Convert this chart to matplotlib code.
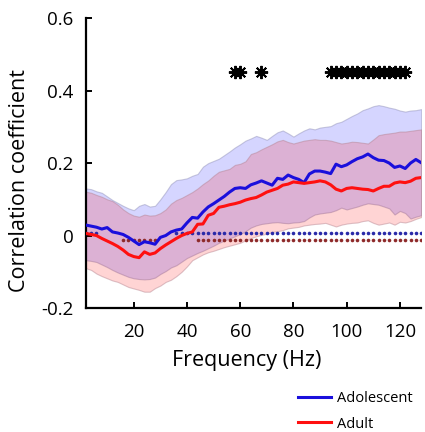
import matplotlib
matplotlib.use('Agg')
import matplotlib.pyplot as plt
from matplotlib.lines import Line2D
import numpy as np

plt.rcParams['font.family'] = ['Open Sans', 'DejaVu Sans']

freq = np.arange(2, 129, 2)

adol_mean = [0.029, 0.026, 0.023, 0.018, 0.022, 0.010, 0.007, 0.003, -0.005, -0.015,
             -0.025, -0.017, -0.020, -0.024, -0.005, 0.000, 0.010, 0.015, 0.018, 0.035,
             0.050, 0.048, 0.065, 0.079, 0.088, 0.098, 0.108, 0.120, 0.130, 0.132,
             0.130, 0.140, 0.145, 0.151, 0.145, 0.139, 0.158, 0.155, 0.167, 0.160,
             0.155, 0.146, 0.170, 0.178, 0.178, 0.175, 0.171, 0.197, 0.190, 0.195,
             0.204, 0.212, 0.217, 0.225, 0.215, 0.208, 0.207, 0.200, 0.188, 0.192,
             0.185, 0.200, 0.210, 0.201]

adult_mean = [0.006, 0.003, 0.000, -0.008, -0.015, -0.022, -0.030, -0.040, -0.052, -0.058,
              -0.061, -0.045, -0.052, -0.048, -0.036, -0.026, -0.017, -0.008, 0.000, 0.006,
              0.010, 0.031, 0.032, 0.056, 0.061, 0.078, 0.081, 0.085, 0.088, 0.092,
              0.098, 0.102, 0.105, 0.112, 0.120, 0.125, 0.130, 0.139, 0.142, 0.148,
              0.146, 0.144, 0.146, 0.148, 0.151, 0.148, 0.140, 0.128, 0.123, 0.130,
              0.132, 0.130, 0.128, 0.127, 0.123, 0.130, 0.136, 0.136, 0.145, 0.148,
              0.146, 0.150, 0.158, 0.160]

adol_upper = [0.130, 0.128, 0.122, 0.118, 0.108, 0.098, 0.090, 0.082, 0.075, 0.070,
              0.082, 0.087, 0.080, 0.082, 0.100, 0.120, 0.142, 0.153, 0.155, 0.158,
              0.165, 0.170, 0.190, 0.200, 0.206, 0.212, 0.222, 0.232, 0.243, 0.252,
              0.262, 0.268, 0.275, 0.270, 0.264, 0.275, 0.285, 0.290, 0.282, 0.273,
              0.282, 0.290, 0.296, 0.293, 0.298, 0.300, 0.302, 0.310, 0.314, 0.322,
              0.330, 0.337, 0.346, 0.351, 0.357, 0.360, 0.357, 0.353, 0.350, 0.345,
              0.342, 0.345, 0.346, 0.349]

adol_lower = [-0.068, -0.070, -0.073, -0.080, -0.087, -0.095, -0.102, -0.108, -0.114, -0.118,
              -0.120, -0.121, -0.120, -0.116, -0.106, -0.098, -0.088, -0.082, -0.072, -0.062,
              -0.055, -0.048, -0.042, -0.035, -0.028, -0.020, -0.014, -0.008, -0.002, 0.004,
              0.012, 0.022, 0.028, 0.032, 0.034, 0.036, 0.037, 0.035, 0.034, 0.036,
              0.037, 0.040, 0.050, 0.058, 0.061, 0.063, 0.065, 0.070, 0.077, 0.072,
              0.076, 0.080, 0.085, 0.089, 0.087, 0.085, 0.080, 0.075, 0.058, 0.068,
              0.062, 0.047, 0.052, 0.056]

adult_upper = [0.121, 0.118, 0.112, 0.107, 0.100, 0.095, 0.085, 0.072, 0.062, 0.055,
               0.052, 0.058, 0.055, 0.056, 0.062, 0.072, 0.088, 0.098, 0.104, 0.112,
               0.120, 0.130, 0.142, 0.152, 0.165, 0.176, 0.180, 0.184, 0.195, 0.198,
               0.205, 0.225, 0.230, 0.238, 0.245, 0.252, 0.260, 0.264, 0.258, 0.254,
               0.258, 0.262, 0.264, 0.266, 0.264, 0.264, 0.262, 0.258, 0.254, 0.256,
               0.259, 0.258, 0.256, 0.254, 0.265, 0.277, 0.280, 0.282, 0.284, 0.287,
               0.287, 0.289, 0.291, 0.293]

adult_lower = [-0.090, -0.095, -0.105, -0.112, -0.118, -0.124, -0.128, -0.135, -0.142, -0.146,
               -0.150, -0.155, -0.155, -0.145, -0.138, -0.128, -0.122, -0.112, -0.100, -0.085,
               -0.068, -0.060, -0.052, -0.046, -0.042, -0.037, -0.032, -0.028, -0.024, -0.020,
               -0.013, -0.007, -0.002, 0.002, 0.005, 0.010, 0.012, 0.015, 0.020, 0.022,
               0.024, 0.028, 0.030, 0.032, 0.033, 0.035, 0.030, 0.025, 0.030, 0.033,
               0.035, 0.036, 0.040, 0.042, 0.035, 0.030, 0.033, 0.036, 0.030, 0.038,
               0.036, 0.040, 0.046, 0.051]

# frequencies marked by dots (chance-level rows) and stars (group difference)
adol_dot_freq = [2, 4, 6] + list(range(36, 129, 2))
adult_dot_freq = list(range(16, 29, 2)) + list(range(44, 129, 2))
adol_dot_level = 0.008
adult_dot_level = -0.011
star_freq = [58, 60, 68] + list(range(94, 123, 2))
star_level = 0.45

xticks = [20, 40, 60, 80, 100, 120]
yticks = [-0.2, 0, 0.2, 0.4, 0.6]
ytick_labels = ['-0.2', '0', '0.2', '0.4', '0.6']

fig = plt.figure(figsize=(4.25, 4.32), dpi=100)
ax = fig.add_axes([0.202, 0.287, 0.789, 0.671])

blue = '#1a0fdc'
red = '#ff1010'

ax.fill_between(freq, adol_lower, adol_upper, facecolor=(0.0, 0.0, 1.0, 0.165),
                edgecolor=(0.55, 0.55, 0.7, 0.45), linewidth=0.8, zorder=1)
ax.fill_between(freq, adult_lower, adult_upper, facecolor=(1.0, 0.0, 0.0, 0.17),
                edgecolor=(0.7, 0.5, 0.55, 0.45), linewidth=0.8, zorder=2)

ax.plot(adol_dot_freq, [adol_dot_level] * len(adol_dot_freq), 'o', color='#2a2aa8',
        markersize=2.6, markeredgewidth=0, zorder=3)
ax.plot(adult_dot_freq, [adult_dot_level] * len(adult_dot_freq), 'o', color='#8e2a2a',
        markersize=2.6, markeredgewidth=0, zorder=3)

ax.plot(freq, adol_mean, color=blue, linewidth=2.2, zorder=4)
ax.plot(freq, adult_mean, color=red, linewidth=2.2, zorder=4)

ax.plot(star_freq, [star_level] * len(star_freq), linestyle='none', marker=(8, 2, 0),
        markersize=9.5, markeredgewidth=1.4, color='black', zorder=5)

ax.set_xlim(2, 128)
ax.set_ylim(-0.2, 0.6)
ax.set_xticks(xticks)
ax.set_yticks(yticks)
ax.set_yticklabels(ytick_labels)

for s in ['top', 'right']:
    ax.spines[s].set_visible(False)
for s in ['left', 'bottom']:
    ax.spines[s].set_linewidth(1.6)
ax.tick_params(direction='in', length=4, width=1.4, labelsize=13.5, colors='black')
ax.tick_params(axis='x', pad=11)
ax.tick_params(axis='y', pad=9)

ax.set_xlabel('Frequency (Hz)', fontsize=15.5)
ax.xaxis.set_label_coords(0.48, -0.18)
ax.xaxis.label.set_va('center')
ax.set_ylabel('Correlation coefficient', fontsize=15.5)
ax.yaxis.set_label_coords(-0.197, 0.44)
ax.yaxis.label.set_va('center')

handles = [Line2D([], [], color=blue, linewidth=2.2),
           Line2D([], [], color=red, linewidth=2.2)]
fig.legend(handles, ['Adolescent', 'Adult'], loc='upper left',
           bbox_to_anchor=(298 / 425, 1 - 391 / 432), frameon=False, fontsize=10.5,
           handlelength=2.25, handletextpad=0.45, labelspacing=0.72,
           borderpad=0, borderaxespad=0)

fig.savefig('out.png', dpi=100)
